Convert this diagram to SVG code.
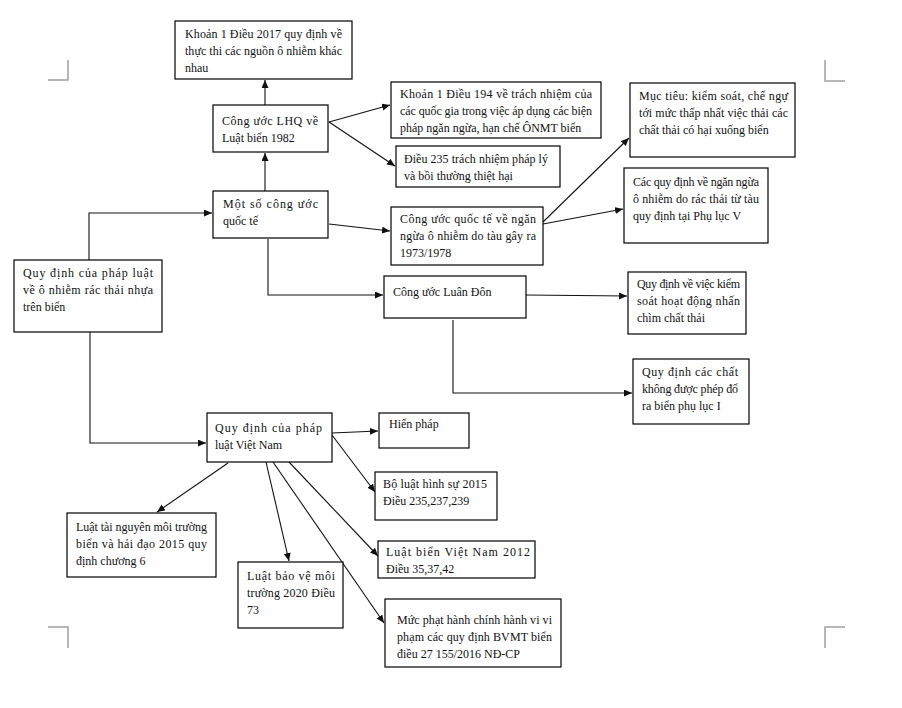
<svg xmlns="http://www.w3.org/2000/svg" width="902" height="708" viewBox="0 0 902 708">
<style>
.box{fill:#fff;stroke:#000;stroke-width:1.2}
.t{font-family:"Liberation Serif","Times New Roman",serif;font-size:12px;fill:#111}
.c{fill:none;stroke:#111;stroke-width:1.1}
.mk{fill:none;stroke:#a0a0a0;stroke-width:1.5}
</style>
<defs>
<marker id="ah" markerUnits="userSpaceOnUse" markerWidth="9" markerHeight="8" refX="8" refY="3.5" orient="auto">
<path d="M0,0 L8,3.5 L0,7 z" fill="#111"/>
</marker>
</defs>
<rect width="902" height="708" fill="#fff"/>
<g id="page-marks">
<path class="mk" d="M68,60 V80 H48"/>
<path class="mk" d="M825,60 V81 H845"/>
<path class="mk" d="M48,627 H68 V648"/>
<path class="mk" d="M845,627 H825 V648"/>
</g>
<g id="connectors">
<path class="c" d="M265,105 V80" marker-end="url(#ah)"/>
<path class="c" d="M329,122 L390,105" marker-end="url(#ah)"/>
<path class="c" d="M329,122 L395,166" marker-end="url(#ah)"/>
<path class="c" d="M265,191 V153" marker-end="url(#ah)"/>
<path class="c" d="M329,224 L390,231" marker-end="url(#ah)"/>
<path class="c" d="M268,239 V295 H383" marker-end="url(#ah)"/>
<path class="c" d="M543,222 L629,138" marker-end="url(#ah)"/>
<path class="c" d="M543,224 L623,209" marker-end="url(#ah)"/>
<path class="c" d="M526,295 L627,296" marker-end="url(#ah)"/>
<path class="c" d="M453,320 V393 H632" marker-end="url(#ah)"/>
<path class="c" d="M89,260 V213 H212" marker-end="url(#ah)"/>
<path class="c" d="M90,332 V443 H206" marker-end="url(#ah)"/>
<path class="c" d="M332,433 L378,431" marker-end="url(#ah)"/>
<path class="c" d="M332,435 L375,492" marker-end="url(#ah)"/>
<path class="c" d="M289,462 L378,556" marker-end="url(#ah)"/>
<path class="c" d="M273,462 L384,623" marker-end="url(#ah)"/>
<path class="c" d="M266,462 L289,561" marker-end="url(#ah)"/>
<path class="c" d="M228,463 L157,512" marker-end="url(#ah)"/>
</g>
<g id="n-khoan1-2017">
<rect class="box" x="175" y="21" width="177" height="58"/>
<text class="t" x="185" y="38" textLength="157" lengthAdjust="spacing">Khoản 1 Điều 2017 quy định về</text>
<text class="t" x="185" y="55" textLength="157" lengthAdjust="spacing">thực thi các nguồn ô nhiễm khác</text>
<text class="t" x="185" y="72">nhau</text>
</g>
<g id="n-unclos">
<rect class="box" x="213" y="105" width="115" height="47"/>
<text class="t" x="222" y="125" textLength="96" lengthAdjust="spacing">Công ước LHQ về</text>
<text class="t" x="222" y="142">Luật biển 1982</text>
</g>
<g id="n-dieu194">
<rect class="box" x="391" y="82" width="210" height="56"/>
<text class="t" x="400" y="98" textLength="192" lengthAdjust="spacing">Khoản 1 Điều 194 về trách nhiệm của</text>
<text class="t" x="400" y="115" textLength="192" lengthAdjust="spacing">các quốc gia trong việc áp dụng các biện</text>
<text class="t" x="400" y="132">pháp ngăn ngừa, hạn chế ÔNMT biển</text>
</g>
<g id="n-dieu235">
<rect class="box" x="396" y="146" width="164" height="41"/>
<text class="t" x="404" y="163" textLength="144" lengthAdjust="spacing">Điều 235 trách nhiệm pháp lý</text>
<text class="t" x="404" y="180">và bồi thường thiệt hại</text>
</g>
<g id="n-muctieu">
<rect class="box" x="630" y="83" width="165" height="74"/>
<text class="t" x="639" y="100" textLength="149" lengthAdjust="spacing">Mục tiêu: kiểm soát, chế ngự</text>
<text class="t" x="639" y="117" textLength="149" lengthAdjust="spacing">tới mức thấp nhất việc thải các</text>
<text class="t" x="639" y="134">chất thải có hại xuống biển</text>
</g>
<g id="n-phuluc5">
<rect class="box" x="624" y="168" width="144" height="75"/>
<text class="t" x="633" y="186" textLength="126" lengthAdjust="spacing">Các quy định về ngăn ngừa</text>
<text class="t" x="633" y="203" textLength="126" lengthAdjust="spacing">ô nhiễm do rác thải từ tàu</text>
<text class="t" x="633" y="220">quy định tại Phụ lục V</text>
</g>
<g id="n-marpol">
<rect class="box" x="391" y="207" width="152" height="58"/>
<text class="t" x="400" y="223" textLength="136" lengthAdjust="spacing">Công ước quốc tế về ngăn</text>
<text class="t" x="400" y="240" textLength="136" lengthAdjust="spacing">ngừa ô nhiễm do tàu gây ra</text>
<text class="t" x="400" y="257">1973/1978</text>
</g>
<g id="n-london">
<rect class="box" x="384" y="276" width="142" height="42"/>
<text class="t" x="393" y="296">Công ước Luân Đôn</text>
</g>
<g id="n-kiemsoat">
<rect class="box" x="628" y="272" width="118" height="62"/>
<text class="t" x="637" y="288" textLength="103" lengthAdjust="spacing">Quy định về việc kiểm</text>
<text class="t" x="637" y="305" textLength="103" lengthAdjust="spacing">soát hoạt động nhấn</text>
<text class="t" x="637" y="322">chìm chất thải</text>
</g>
<g id="n-phuluc1">
<rect class="box" x="633" y="359" width="116" height="65"/>
<text class="t" x="642" y="376" textLength="96" lengthAdjust="spacing">Quy định các chất</text>
<text class="t" x="642" y="393" textLength="96" lengthAdjust="spacing">không được phép đổ</text>
<text class="t" x="642" y="410">ra biển phụ lục I</text>
</g>
<g id="n-congtuoc">
<rect class="box" x="213" y="191" width="115" height="47"/>
<text class="t" x="223" y="208" textLength="95" lengthAdjust="spacing">Một số công ước</text>
<text class="t" x="223" y="225">quốc tế</text>
</g>
<g id="n-root">
<rect class="box" x="14" y="260" width="148" height="72"/>
<text class="t" x="23" y="277" textLength="130" lengthAdjust="spacing">Quy định của pháp luật</text>
<text class="t" x="23" y="294" textLength="130" lengthAdjust="spacing">về ô nhiễm rác thải nhựa</text>
<text class="t" x="23" y="311">trên biển</text>
</g>
<g id="n-vietnam">
<rect class="box" x="207" y="413" width="125" height="49"/>
<text class="t" x="215" y="432" textLength="107" lengthAdjust="spacing">Quy định của pháp</text>
<text class="t" x="215" y="449">luật Việt Nam</text>
</g>
<g id="n-hienphap">
<rect class="box" x="379" y="413" width="90" height="35"/>
<text class="t" x="389" y="428">Hiến pháp</text>
</g>
<g id="n-hinhsu">
<rect class="box" x="375" y="472" width="122" height="48"/>
<text class="t" x="383" y="488" textLength="104" lengthAdjust="spacing">Bộ luật hình sự 2015</text>
<text class="t" x="383" y="505">Điều 235,237,239</text>
</g>
<g id="n-luatbien">
<rect class="box" x="378" y="541" width="157" height="37"/>
<text class="t" x="386" y="556" textLength="144" lengthAdjust="spacing">Luật biển Việt Nam 2012</text>
<text class="t" x="386" y="573">Điều 35,37,42</text>
</g>
<g id="n-mucphat">
<rect class="box" x="385" y="599" width="176" height="68"/>
<text class="t" x="397" y="624" textLength="155" lengthAdjust="spacing">Mức phạt hành chính hành vi vi</text>
<text class="t" x="397" y="641" textLength="155" lengthAdjust="spacing">phạm các quy định BVMT biển</text>
<text class="t" x="397" y="658">điều 27 155/2016 NĐ-CP</text>
</g>
<g id="n-baove">
<rect class="box" x="238" y="562" width="105" height="66"/>
<text class="t" x="247" y="580" textLength="88" lengthAdjust="spacing">Luật bảo vệ môi</text>
<text class="t" x="247" y="597" textLength="88" lengthAdjust="spacing">trường 2020 Điều</text>
<text class="t" x="247" y="614">73</text>
</g>
<g id="n-tainguyen">
<rect class="box" x="67" y="513" width="149" height="64"/>
<text class="t" x="76" y="531" textLength="131" lengthAdjust="spacing">Luật tài nguyên môi trường</text>
<text class="t" x="76" y="548" textLength="131" lengthAdjust="spacing">biển và hải đạo 2015  quy</text>
<text class="t" x="76" y="565">định chương 6</text>
</g>
</svg>
